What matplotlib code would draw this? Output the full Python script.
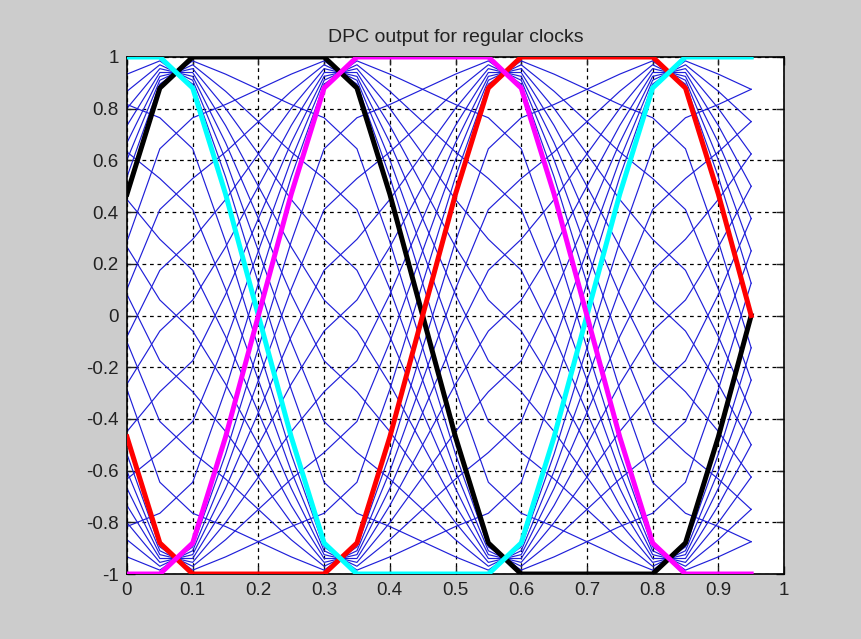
import matplotlib
matplotlib.use('Agg')
import matplotlib.pyplot as plt

# ---- data ----
x = [0.0, 0.05, 0.1, 0.15, 0.2, 0.25, 0.3, 0.35, 0.4, 0.45,
     0.5, 0.55, 0.6, 0.65, 0.7, 0.75, 0.8, 0.85, 0.9, 0.95]

black = [0.47, 0.88, 1, 1, 1, 1, 1, 0.88, 0.47, 0,
         -0.47, -0.88, -1, -1, -1, -1, -1, -0.88, -0.47, 0]
red = [-0.47, -0.88, -1, -1, -1, -1, -1, -0.88, -0.47, 0,
       0.47, 0.88, 1, 1, 1, 1, 1, 0.88, 0.47, 0]
cyan = [1, 1, 0.88, 0.47, 0, -0.47, -0.88, -1, -1, -1,
        -1, -1, -0.88, -0.47, 0, 0.47, 0.88, 1, 1, 1]
magenta = [-1, -1, -0.88, -0.47, 0, 0.47, 0.88, 1, 1, 1,
           1, 1, 0.88, 0.47, 0, -0.47, -0.88, -1, -1, -1]

# interpolation weights of the intermediate (blue) phases between adjacent clocks
weights = [1/8, 2/8, 3/8, 4/8, 5/8, 6/8, 7/8]

xticks = [0, 0.1, 0.2, 0.3, 0.4, 0.5, 0.6, 0.7, 0.8, 0.9, 1]
xtick_labels = ['0', '0.1', '0.2', '0.3', '0.4', '0.5', '0.6', '0.7', '0.8', '0.9', '1']
yticks = [-1, -0.8, -0.6, -0.4, -0.2, 0, 0.2, 0.4, 0.6, 0.8, 1]
ytick_labels = ['-1', '-0.8', '-0.6', '-0.4', '-0.2', '0', '0.2', '0.4', '0.6', '0.8', '1']

title = 'DPC output for regular clocks'

# ---- plotting ----
plt.rcParams['font.family'] = ['Liberation Sans', 'DejaVu Sans']

fig = plt.figure(figsize=(8.61, 6.39), dpi=100, facecolor=(0.8, 0.8, 0.8))
ax = fig.add_axes([0.1475, 0.1017, 0.7631, 0.8091])
ax.set_facecolor('white')

pairs = [(cyan, black), (black, magenta), (magenta, red), (red, cyan)]
for a_clk, b_clk in pairs:
    for w in weights:
        mix = [(1 - w) * a + w * b for a, b in zip(a_clk, b_clk)]
        ax.plot(x, mix, color=(0.12, 0.12, 0.85), linewidth=0.85, zorder=2)

ax.plot(x, black, color='black', linewidth=3.6, zorder=3)
ax.plot(x, red, color=(1, 0, 0), linewidth=3.6, zorder=3)
ax.plot(x, cyan, color=(0, 1, 1), linewidth=3.6, zorder=3)
ax.plot(x, magenta, color=(1, 0, 1), linewidth=3.6, zorder=3)

ax.set_xlim(0, 1)
ax.set_ylim(-1, 1)
ax.set_xticks(xticks)
ax.set_xticklabels(xtick_labels)
ax.set_yticks(yticks)
ax.set_yticklabels(ytick_labels)

ax.grid(True, color='black', linestyle=(0, (3, 3)), linewidth=0.9)
ax.tick_params(direction='in', top=True, right=True, length=6, width=1,
               labelsize=13.5, pad=6, colors='#222222')
for sp in ax.spines.values():
    sp.set_linewidth(1.2)
    sp.set_color('black')

ax.set_title(title, fontsize=14, pad=11, color='#222222')

fig.savefig('out.png', dpi=100, facecolor=fig.get_facecolor())
